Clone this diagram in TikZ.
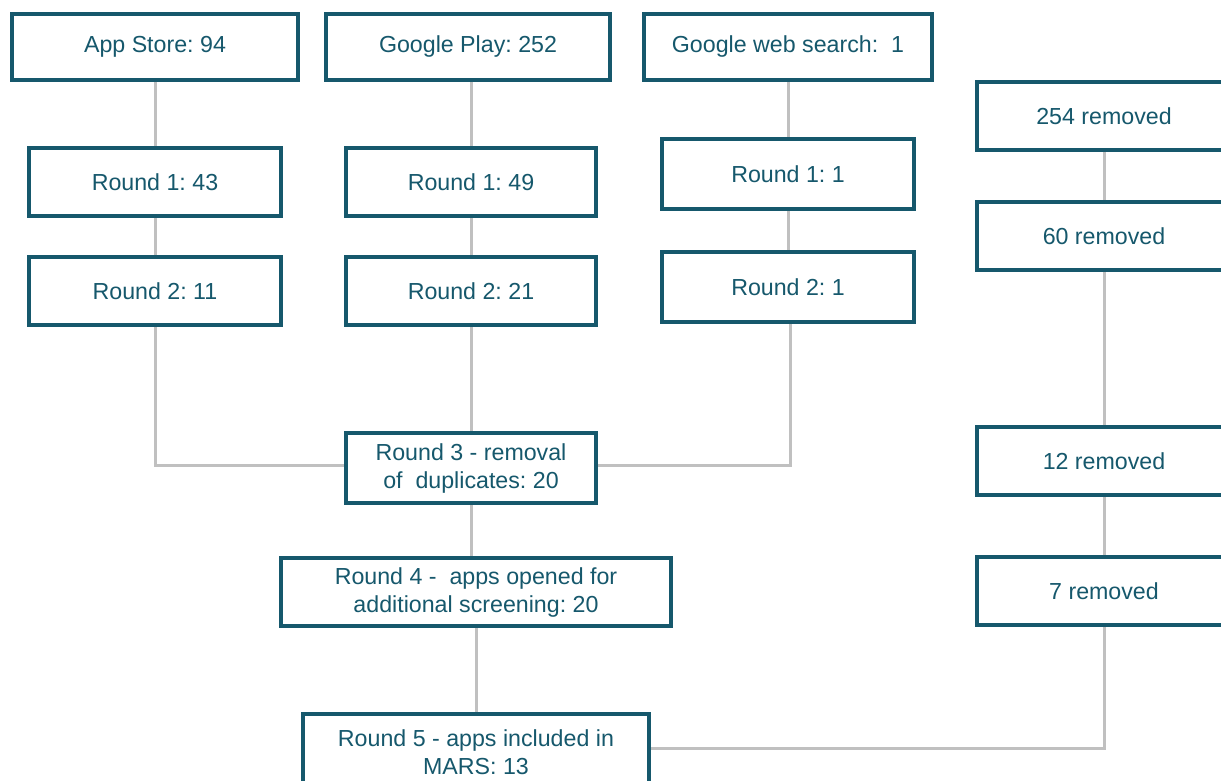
\documentclass[tikz,border=0pt]{standalone}
\usepackage{fontspec}
\setmainfont{Liberation Sans}
\usepackage{tikz}
\frenchspacing

\definecolor{boxteal}{RGB}{22,88,108}
\definecolor{linkgrey}{RGB}{192,192,192}

\tikzset{
    stage/.style={draw=boxteal, fill=white, line width=2pt, text=boxteal,
        inner sep=0pt, align=center, font=\fontsize{11.6}{14}\selectfont},
    link/.style={draw=linkgrey, line width=1.5pt}
}

\begin{document}
\begin{tikzpicture}[x=0.5pt,y=-0.5pt]
    \useasboundingbox (0,0) rectangle (1221,781);
    \clip (0,0) rectangle (1221,781);

    % sources
    \node[stage, minimum width=143pt, minimum height=33pt] (store) at (155,47) {App Store: 94};
    \node[stage, minimum width=142pt, minimum height=33pt] (play) at (468,47) {Google Play: 252};
    \node[stage, minimum width=144pt, minimum height=33pt] (web) at (788,47) {Google web search:~~1};

    % screening rounds per source
    \node[stage, minimum width=126pt, minimum height=34pt] (storeA) at (155,182) {Round 1: 43};
    \node[stage, minimum width=126pt, minimum height=34pt] (storeB) at (155,291) {Round 2: 11};
    \node[stage, minimum width=125pt, minimum height=34pt] (playA) at (471,182) {Round 1: 49};
    \node[stage, minimum width=125pt, minimum height=34pt] (playB) at (471,291) {Round 2: 21};
    \node[stage, minimum width=126pt, minimum height=35pt] (webA) at (788,174) {Round 1: 1};
    \node[stage, minimum width=126pt, minimum height=35pt] (webB) at (788,287) {Round 2: 1};

    % merged rounds
    \node[stage, minimum width=125pt, minimum height=35pt] (dupes) at (471,468)
        {Round 3 - removal\\ of~~duplicates: 20};
    \node[stage, minimum width=195pt, minimum height=34pt] (opened) at (476,592)
        {Round 4 -~~apps opened for\\additional screening: 20};
    \node[stage, minimum width=173pt, minimum height=38pt] (mars) at (476,752)
        {Round 5 - apps included in\\MARS: 13};

    % removals
    \node[stage, minimum width=127pt, minimum height=34pt] (cutA) at (1104,116) {254 removed};
    \node[stage, minimum width=127pt, minimum height=34pt] (cutB) at (1104,236) {60 removed};
    \node[stage, minimum width=127pt, minimum height=34pt] (cutC) at (1104,461) {12 removed};
    \node[stage, minimum width=127pt, minimum height=34pt] (cutD) at (1104,591) {7 removed};

    \coordinate (storeTurn) at (155,465);
    \coordinate (webTurn) at (790,465);
    \coordinate (cutTurn) at (1104,748);

    % connectors, border to border
    \draw[link] (store) -- (storeA);
    \draw[link] (storeA) -- (storeB);
    \draw[link] (storeB.south) -- (storeTurn) -- (storeTurn -| dupes.west);
    \draw[link] (play.south -| playA) -- (playA);
    \draw[link] (playA) -- (playB);
    \draw[link] (playB) -- (dupes);
    \draw[link] (web) -- (webA);
    \draw[link] (webA) -- (webB);
    \draw[link] (webB.south -| webTurn) -- (webTurn) -- (webTurn -| dupes.east);
    \draw[link] (dupes) -- (dupes |- opened.north);
    \draw[link] (opened) -- (mars);
    \draw[link] (cutA) -- (cutB);
    \draw[link] (cutB) -- (cutC);
    \draw[link] (cutC) -- (cutD);
    \draw[link] (cutD.south) -- (cutTurn) -- (cutTurn -| mars.east);
\end{tikzpicture}
\end{document}
